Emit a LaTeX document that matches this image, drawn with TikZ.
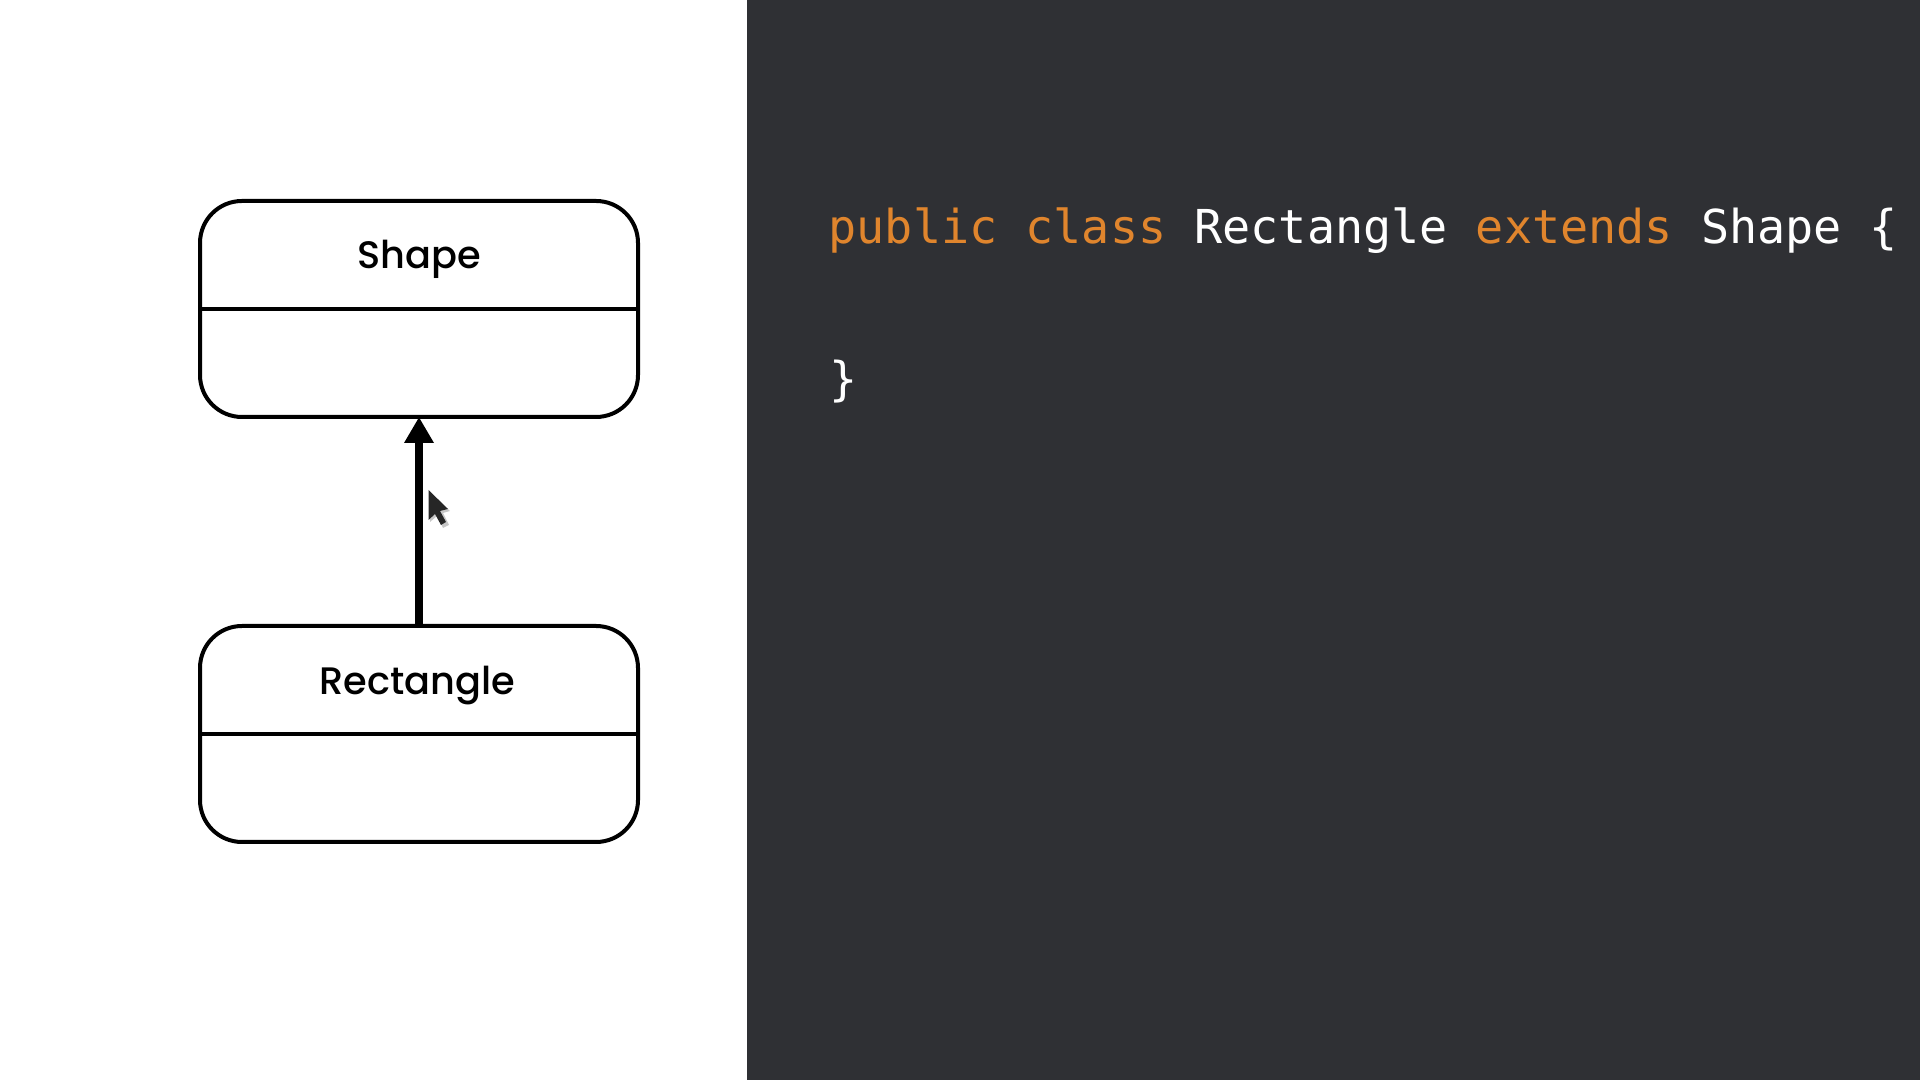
\documentclass[tikz,border=0pt]{standalone}
\usepackage{fontspec}
\usetikzlibrary{arrows.meta,positioning}
\setmainfont{Poppins Medium}
\setmonofont{DejaVu Sans Mono}
\definecolor{panel}{RGB}{47,48,52}
\definecolor{keyword}{RGB}{224,133,45}

\begin{document}
\begin{tikzpicture}[
        classbox/.style={rectangle, draw, rounded corners=0.42cm, line width=0.04cm, minimum width=4.38cm, minimum height=2.16cm},
        title/.style={anchor=base, font=\fontsize{10.9pt}{12pt}\selectfont, inner sep=0pt},
        divider/.style={line width=0.04cm},
        arrow/.style={-{Triangle[length=0.26cm, width=0.28cm]}, line width=0.075cm, shorten >=-0.02cm},
        code/.style={anchor=base west, inner sep=0pt, text=white, font=\fontsize{13.3pt}{16pt}\selectfont\ttfamily}
    ]
        \useasboundingbox (0,0) rectangle (19.2,10.8);
        \fill[panel] (7.47,0) rectangle (19.2,10.8);

        \node[classbox] (shapeBox) at (4.19,7.71) {};
        \node[classbox] (rectBox) at (4.19,3.46) {};
        \node[title] (shapeTitle) at (4.19,8.11) {Shape};
        \node[title] (rectTitle) at (4.17,3.855) {Rectangle};

        \draw[divider] (shapeBox.west) -- (shapeBox.east);
        \draw[divider] (rectBox.west) -- (rectBox.east);
        \draw[arrow] (rectBox) -- (shapeBox);

        \node[code] (classLine) at (8.28,8.36) {\textcolor{keyword}{public class} Rectangle \textcolor{keyword}{extends} Shape \{};
        \node[code] (closeLine) at (8.29,6.84) {\}};

        % mouse pointer
        \fill[black!22] (4.30,5.87) -- (4.30,5.58) -- (4.37,5.64) -- (4.43,5.52) -- (4.49,5.55) -- (4.43,5.67) -- (4.50,5.69) -- cycle;
        \fill[black!85] (4.285,5.90) -- (4.285,5.60) -- (4.35,5.66) -- (4.41,5.55) -- (4.46,5.58) -- (4.40,5.69) -- (4.48,5.71) -- cycle;
    \end{tikzpicture}
\end{document}
